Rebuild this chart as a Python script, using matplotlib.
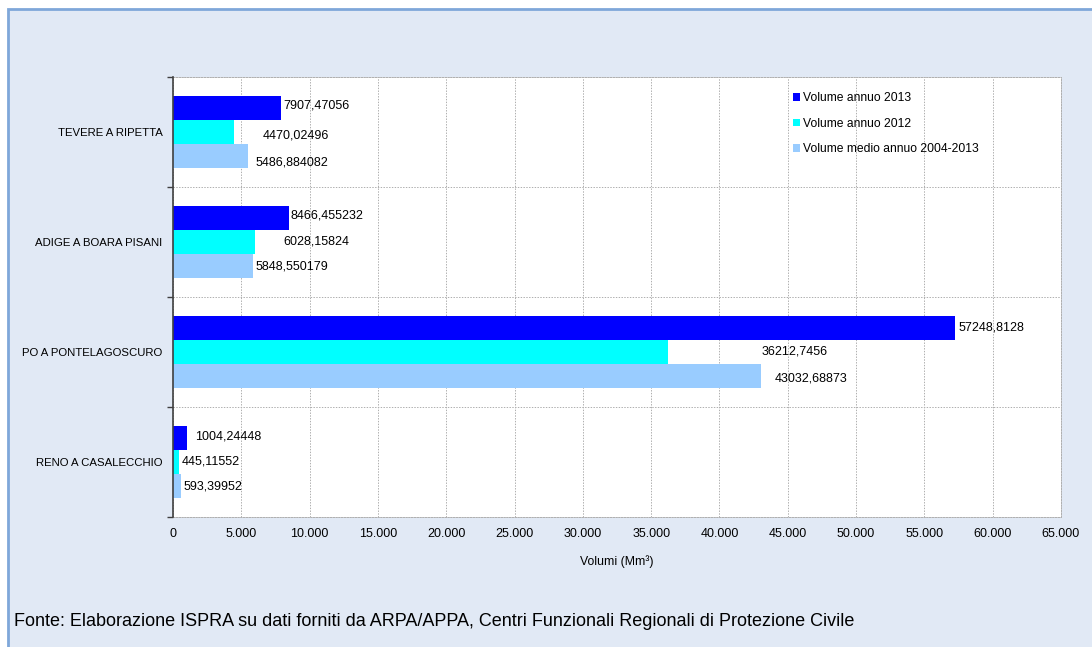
import matplotlib
matplotlib.use("Agg")
import matplotlib.pyplot as plt
from matplotlib.patches import Rectangle
from matplotlib.ticker import FixedLocator, FuncFormatter
import numpy as np

plt.rcParams['font.family'] = ['Liberation Sans', 'DejaVu Sans']

categories = ["TEVERE A RIPETTA", "ADIGE A BOARA PISANI", "PO A PONTELAGOSCURO", "RENO A CASALECCHIO"]
series_names = ["Volume annuo 2013", "Volume annuo 2012", "Volume medio annuo 2004-2013"]
vol_2013 = [7907.47056, 8466.455232, 57248.8128, 1004.24448]
vol_2012 = [4470.02496, 6028.15824, 36212.7456, 445.11552]
vol_avg = [5486.884082, 5848.550179, 43032.68873, 593.39952]
label_2013 = ["7907,47056", "8466,455232", "57248,8128", "1004,24448"]
label_2012 = ["4470,02496", "6028,15824", "36212,7456", "445,11552"]
label_avg = ["5486,884082", "5848,550179", "43032,68873", "593,39952"]
x_ticks = list(range(0, 65001, 5000))

colors = ["#0000ff", "#00ffff", "#99ccff"]
# label offsets in pixels (dx, dy down) per series per category
dx = [[2, 2, 3, 8], [29, 28, 94, 3], [8, 3, 14, 2]]
dy = [[-2, -2, 0, -1], [4, 0, 0, 0], [6, 0, 2, 0]]

W, H = 1092, 647
fig = plt.figure(figsize=(W / 100, H / 100), dpi=100)
fig.patch.set_facecolor("white")
# panel background with border
fig.patches.append(Rectangle((8 / W, -0.1), 1.2, (H - 9) / H + 0.1, transform=fig.transFigure,
                             facecolor="#e1e9f5", edgecolor="#7fa7d9", linewidth=2, zorder=-10))

ax = fig.add_axes([173 / W, 1 - 517 / H, (1061 - 173) / W, (517 - 77) / H])
ax.set_zorder(5)
ax.set_facecolor("white")

n = len(categories)
y = np.arange(n)
bh = 24.3 / 110
series = [vol_2013, vol_2012, vol_avg]
labels = [label_2013, label_2012, label_avg]
for i, (vals, labs) in enumerate(zip(series, labels)):
    pos = y + (i - 1) * bh
    ax.barh(pos, vals, height=bh, color=colors[i], label=series_names[i], zorder=3)
    for j in range(n):
        ax.annotate(labs[j], (vals[j], pos[j]), xytext=(dx[i][j], -dy[i][j]),
                    textcoords="offset pixels", ha="left", va="center", fontsize=9,
                    color="black", zorder=4)

ax.set_xlim(0, 65000)
ax.set_ylim(n - 0.5, -0.5)
ax.xaxis.set_major_locator(FixedLocator(x_ticks))
ax.xaxis.set_major_formatter(FuncFormatter(lambda v, p: f"{int(v):,}".replace(",", ".")))
ax.tick_params(axis="x", length=0, pad=8, labelsize=9)
ax.set_yticks(np.arange(-0.5, n, 1.0))
ax.set_yticklabels([])
ax.set_yticks(y, minor=True)
ax.set_yticklabels(categories, minor=True)
ax.tick_params(axis="y", which="major", length=4, width=1, color="#404040", direction="out")
ax.tick_params(axis="y", which="minor", length=0, pad=7.5, labelsize=8.2)

ax.grid(True, which="major", color="#b0b0b0", linestyle=(0, (1.4, 1.4)), linewidth=0.72, zorder=0)
for s in ["top", "right", "bottom"]:
    ax.spines[s].set_color("#b0b0b0")
    ax.spines[s].set_linestyle((0, (1.4, 1.4)))
    ax.spines[s].set_linewidth(0.72)
ax.spines["left"].set_color("#404040")
ax.spines["left"].set_linewidth(1.2)
ax.spines["left"].set_zorder(5)

ax.set_xlabel("Volumi (Mm³)", fontsize=8.8, labelpad=11)

leg = ax.legend(loc="upper left", bbox_to_anchor=((787 - 173) / (1061 - 173), 1 - (86 - 77) / 440),
                frameon=False, fontsize=8.7, handlelength=0.6, handleheight=0.6,
                handletextpad=0.2, labelspacing=1.13, borderpad=0)

fig.text(14 / W, 1 - 622 / H, "Fonte: Elaborazione ISPRA su dati forniti da ARPA/APPA, Centri Funzionali Regionali di Protezione Civile",
         fontsize=13, va="center", ha="left")

fig.savefig("out.png", dpi=100)
